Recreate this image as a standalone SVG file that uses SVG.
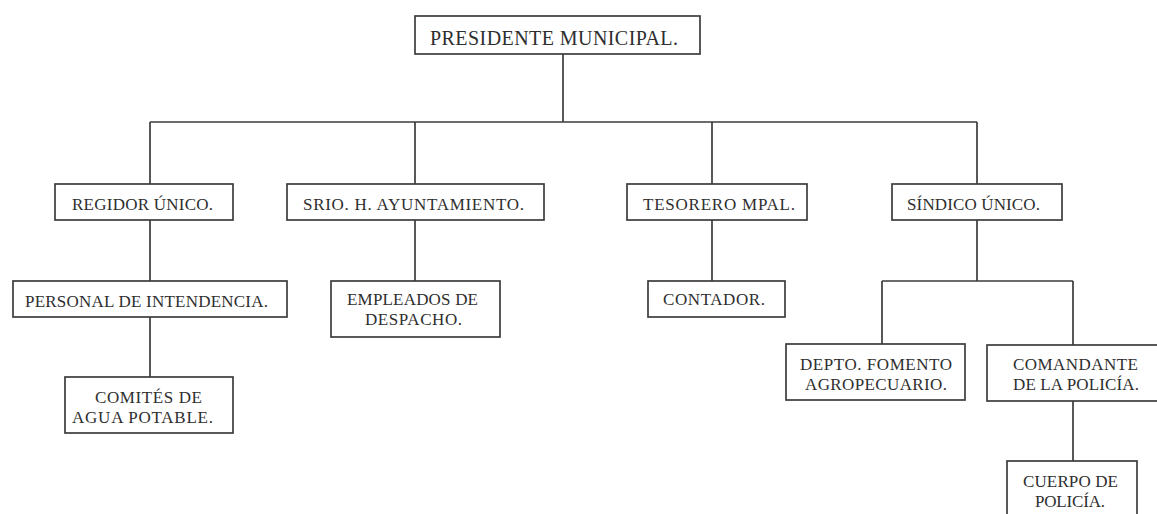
<svg xmlns="http://www.w3.org/2000/svg" width="1157" height="514" viewBox="0 0 1157 514">
<style>
rect{fill:#fff;stroke:#3c3c3c;stroke-width:1.7}
.c path{fill:none;stroke:#3c3c3c;stroke-width:1.7}
text{font-family:"Liberation Serif","Times New Roman",serif;font-size:17px;fill:#2e2e2e}
.big{font-size:20px}
</style>
<rect x="0" y="0" width="1157" height="514" style="stroke:none;fill:#fff"/>
<g class="c" id="connectors">
<path d="M563 54V122M150 122H977M150 122V184M415 122V184M712 122V184M977 122V184"/>
<path d="M150 220V281M150 317V377M415 220V281M712 220V281"/>
<path d="M977 220V281M882 281H1073M882 281V344M1073 281V345M1073 401V461"/>
</g>
<g id="presidente"><rect x="415" y="16" width="285" height="38"/><text class="big" x="430" y="45" textLength="248" lengthAdjust="spacing">PRESIDENTE MUNICIPAL.</text></g>
<g id="regidor"><rect x="55" y="184" width="178" height="36"/><text x="72" y="210" textLength="141" lengthAdjust="spacing">REGIDOR ÚNICO.</text></g>
<g id="srio"><rect x="287" y="184" width="257" height="36"/><text x="303" y="210" textLength="221" lengthAdjust="spacing">SRIO. H. AYUNTAMIENTO.</text></g>
<g id="tesorero"><rect x="627" y="184" width="180" height="36"/><text x="643" y="210" textLength="152" lengthAdjust="spacing">TESORERO MPAL.</text></g>
<g id="sindico"><rect x="892" y="184" width="170" height="36"/><text x="907" y="210" textLength="133" lengthAdjust="spacing">SÍNDICO ÚNICO.</text></g>
<g id="personal"><rect x="13" y="281" width="274" height="36"/><text x="25" y="307" textLength="243" lengthAdjust="spacing">PERSONAL DE INTENDENCIA.</text></g>
<g id="comites"><rect x="65" y="377" width="168" height="56"/><text x="95" y="403" textLength="107" lengthAdjust="spacing">COMITÉS DE</text><text x="72" y="423" textLength="141" lengthAdjust="spacing">AGUA POTABLE.</text></g>
<g id="empleados"><rect x="331" y="281" width="169" height="56"/><text x="347" y="305" textLength="131" lengthAdjust="spacing">EMPLEADOS DE</text><text x="365" y="325" textLength="97" lengthAdjust="spacing">DESPACHO.</text></g>
<g id="contador"><rect x="648" y="281" width="137" height="36"/><text x="663" y="305" textLength="102" lengthAdjust="spacing">CONTADOR.</text></g>
<g id="depto"><rect x="786" y="344" width="179" height="56"/><text x="800" y="370" textLength="152" lengthAdjust="spacing">DEPTO. FOMENTO</text><text x="805" y="390" textLength="142" lengthAdjust="spacing">AGROPECUARIO.</text></g>
<g id="comandante"><rect x="987" y="345" width="180" height="56"/><text x="1013" y="370" textLength="125" lengthAdjust="spacing">COMANDANTE</text><text x="1013" y="390" textLength="126" lengthAdjust="spacing">DE LA POLICÍA.</text></g>
<g id="cuerpo"><rect x="1007" y="461" width="130" height="64"/><text x="1023" y="487" textLength="95" lengthAdjust="spacing">CUERPO DE</text><text x="1035" y="507" textLength="70" lengthAdjust="spacing">POLICÍA.</text></g>
</svg>
